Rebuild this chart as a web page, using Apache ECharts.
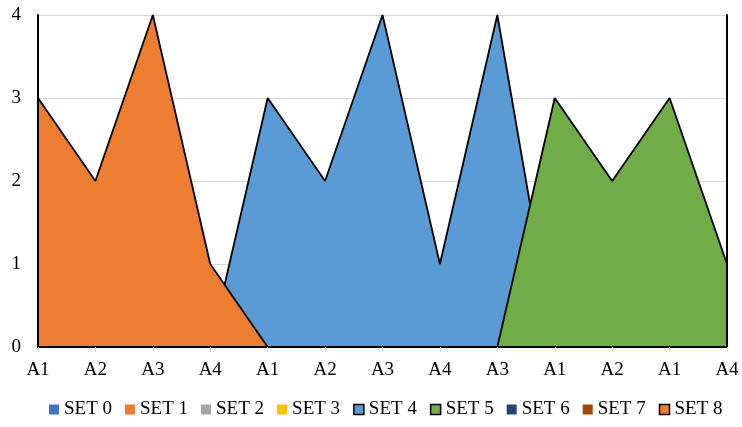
<!DOCTYPE html>
<html>
<head>
<meta charset="utf-8">
<script src="https://cdn.jsdelivr.net/npm/echarts@6/dist/echarts.min.js"></script>
<style>
  html, body { margin: 0; padding: 0; background: #fff; }
  #chart { width: 742px; height: 427px; }
</style>
</head>
<body>
<div id="chart"></div>
<script>
// Category labels along the x axis
const categories = ['A1', 'A2', 'A3', 'A4', 'A1', 'A2', 'A3', 'A4', 'A3', 'A1', 'A2', 'A1', 'A4'];

// Series names and colours (legend order)
const seriesNames = ['SET 0', 'SET 1', 'SET 2', 'SET 3', 'SET 4', 'SET 5', 'SET 6', 'SET 7', 'SET 8'];
const seriesColors = ['#4472C4', '#ED7D31', '#A5A5A5', '#FFC000', '#5B9BD5', '#70AD47', '#264478', '#9E480E', '#ED7D31'];

// Values per series (null = no value at that category)
const set0 = [];
const set1 = [];
const set2 = [];
const set3 = [];
const set4 = [null, null, null, 0, 3, 2, 4, 1, 4, 0, null, null, null];
const set5 = [null, null, null, null, null, null, null, null, 0, 3, 2, 3, 1];
const set6 = [];
const set7 = [];
const set8 = [3, 2, 4, 1, 0, null, null, null, null, null, null, null, null];

// Y axis ticks
const yMin = 0;
const yMax = 4;
const yStep = 1;

const seriesData = [set0, set1, set2, set3, set4, set5, set6, set7, set8];
const outlined = { 'SET 4': true, 'SET 5': true, 'SET 8': true };

const font = "'Liberation Serif', 'Times New Roman', serif";
const plotBox = { left: 38, right: 15, top: 15, bottom: 80 };

// Each later series sits on its own layer so its fill covers earlier outlines
const series = seriesNames.map((name, i) => ({
  name: name,
  type: 'line',
  xAxisIndex: 0,
  yAxisIndex: 0,
  data: seriesData[i],
  z: 2 + i,
  symbol: 'none',
  showSymbol: false,
  connectNulls: false,
  color: seriesColors[i],
  lineStyle: { color: '#000', width: 1.8 },
  areaStyle: { color: seriesColors[i], opacity: 1 },
  itemStyle: { color: seriesColors[i] },
  emphasis: { disabled: true },
  animation: false
}));

const legendData = seriesNames.map(name => ({
  name: name,
  icon: 'rect',
  itemStyle: outlined[name]
    ? { borderColor: '#000', borderWidth: 1.5 }
    : { borderWidth: 0 },
  lineStyle: { width: 0, opacity: 0 }
}));

const chart = echarts.init(document.getElementById('chart'), null, { renderer: 'canvas' });
chart.setOption({
  animation: false,
  // grid 0 holds the data; grid 1 overlays the black frame on top, left and right
  grid: [Object.assign({}, plotBox), Object.assign({}, plotBox)],
  legend: {
    data: legendData,
    bottom: 3,
    left: 44,
    itemWidth: 10,
    itemHeight: 10,
    itemGap: 13,
    textStyle: { fontFamily: font, fontSize: 19, color: '#000' }
  },
  xAxis: [{
    gridIndex: 0,
    type: 'category',
    data: categories,
    boundaryGap: false,
    position: 'bottom',
    axisLine: { show: true, lineStyle: { color: '#D9D9D9', width: 1.5 } },
    axisTick: { show: true, alignWithLabel: true, length: 5, lineStyle: { color: '#D9D9D9', width: 1 } },
    axisLabel: { fontFamily: font, fontSize: 19, color: '#000', margin: 14, interval: 0 },
    splitLine: { show: false },
    z: 20
  }, {
    gridIndex: 1,
    type: 'category',
    data: categories,
    boundaryGap: false,
    position: 'top',
    axisLine: { show: true, lineStyle: { color: '#000', width: 2 } },
    axisTick: { show: false },
    axisLabel: { show: false },
    splitLine: { show: false },
    z: 20
  }],
  yAxis: [{
    gridIndex: 0,
    type: 'value',
    min: yMin,
    max: yMax,
    interval: yStep,
    position: 'left',
    axisLine: { show: false },
    axisTick: { show: false },
    axisLabel: { fontFamily: font, fontSize: 19, color: '#000', margin: 17 },
    splitLine: { show: true, lineStyle: { color: '#D9D9D9', width: 1 } },
    z: 0
  }, {
    gridIndex: 1,
    type: 'value',
    min: yMin,
    max: yMax,
    interval: yStep,
    position: 'left',
    axisLine: { show: true, lineStyle: { color: '#000', width: 2 } },
    axisTick: { show: false },
    axisLabel: { show: false },
    splitLine: { show: false },
    z: 20
  }, {
    gridIndex: 1,
    type: 'value',
    min: yMin,
    max: yMax,
    interval: yStep,
    position: 'right',
    axisLine: { show: true, lineStyle: { color: '#000', width: 2 } },
    axisTick: { show: false },
    axisLabel: { show: false },
    splitLine: { show: false },
    z: 20
  }],
  series: series
});
</script>
</body>
</html>
